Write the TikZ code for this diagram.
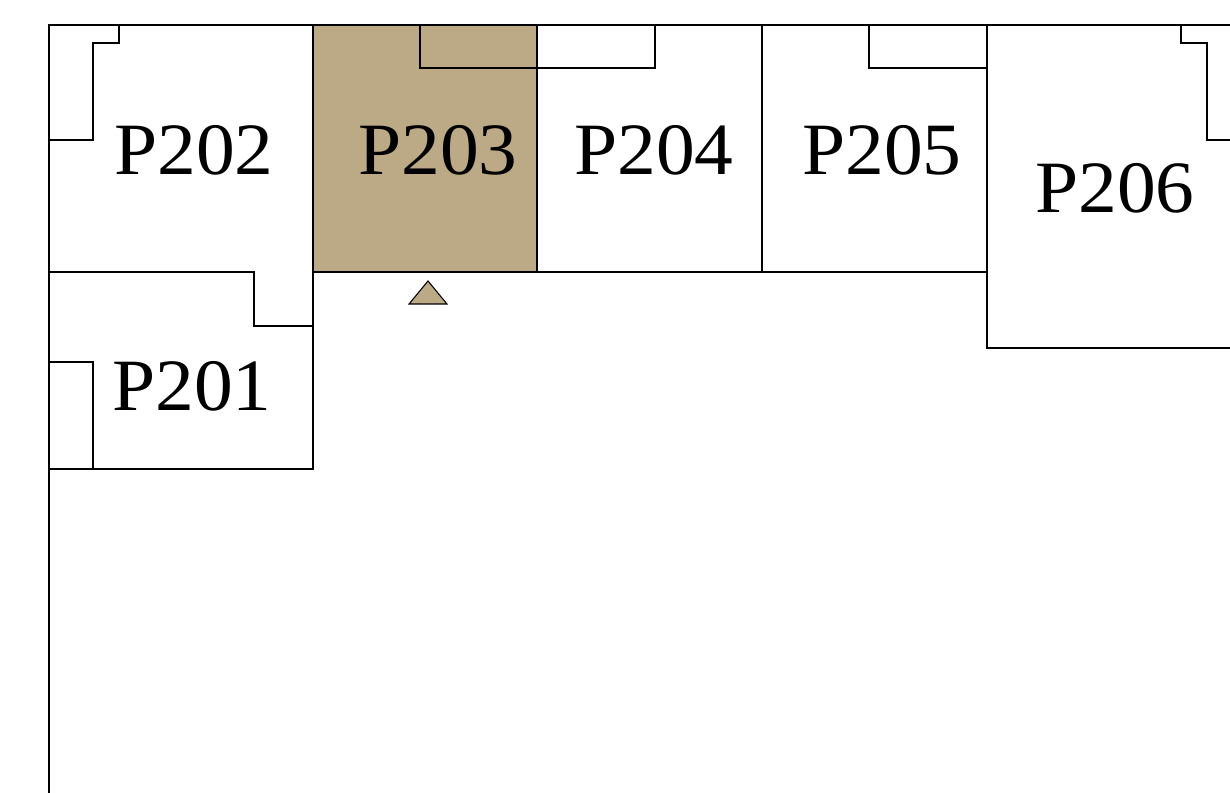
\documentclass[tikz,border=0pt]{standalone}
\usepackage{fontspec}
\setmainfont{Liberation Serif}
\definecolor{tan}{HTML}{BCA985}
\begin{document}
\begin{tikzpicture}[x=0.02cm, y=-0.02cm, line width=0.75pt, n/.style={inner sep=0pt, xscale=1.05, font=\fontsize{42}{42}\selectfont}]
			\useasboundingbox (0, 0) rectangle (1230, 793);

			\fill[tan] (313, 25) rectangle (537, 272);
			\draw (49, 793) -- (49, 25) -- (1230, 25);
			\draw (313, 25) -- (313, 326);
			\draw (537, 25) -- (537, 272);
			\draw (762, 25) -- (762, 272);
			\draw (49, 272) -- (254, 272) -- (254, 326) -- (313, 326) -- (313, 469) -- (49, 469);
			\draw (313, 272) -- (987, 272);
			\draw (987, 25) -- (987, 348) -- (1230, 348);

			\draw (119, 25) -- (119, 43) -- (93, 43) -- (93, 140) -- (49, 140);
			\draw (49, 362) -- (93, 362) -- (93, 469);
			\draw (420, 25) -- (420, 68) -- (655, 68) -- (655, 25);
			\draw (869, 25) -- (869, 68) -- (987, 68);
			\draw (1181, 25) -- (1181, 43) -- (1207, 43) -- (1207, 140) -- (1230, 140);

			\draw[fill=tan, line width=0.6pt] (409, 304) -- (428, 281) -- (447, 304) -- cycle;

			\node[n] (p201) at (192, 386) {P201};
			\node[n] (p202) at (194, 150) {P202};
			\node[n] (p203) at (438, 150) {P203};
			\node[n] (p204) at (654, 150) {P204};
			\node[n] (p205) at (882, 150) {P205};
			\node[n] (p206) at (1115, 188) {P206};
		\end{tikzpicture}
\end{document}
